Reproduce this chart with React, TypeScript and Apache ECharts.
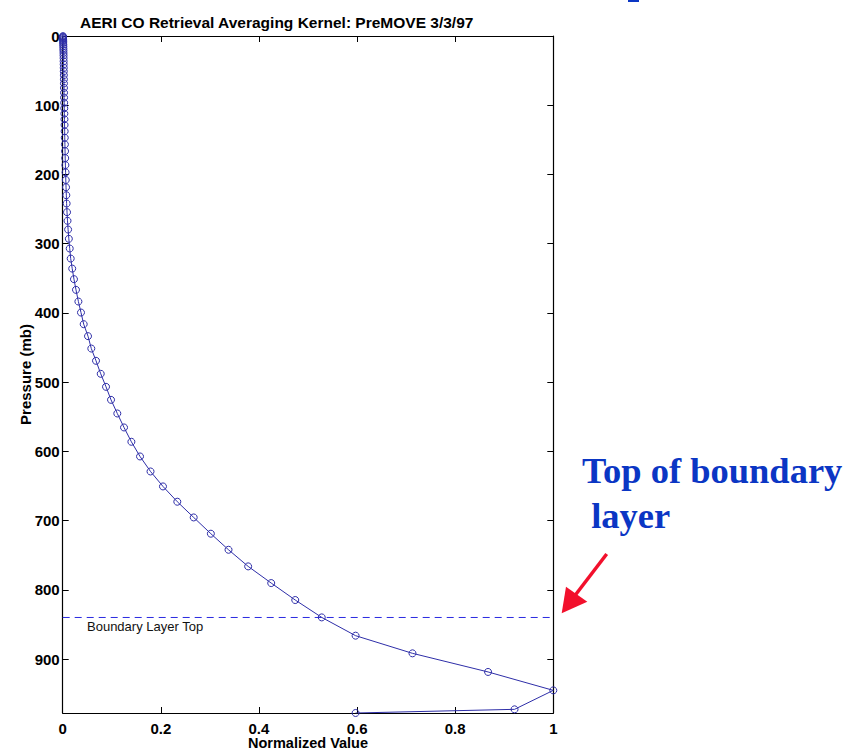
import React, { useEffect, useRef } from "react";
import * as echarts from "echarts";

// Pressure levels (mb), top of atmosphere to surface
const pressures: number[] = [
  0.3, 1, 2, 3, 4.5, 6, 8, 10, 12.5, 15, 18, 21, 24.5, 28, 32, 36.5, 41, 46, 51,
  56.5, 62.5, 68.5, 75, 82, 89, 96.5, 104.4, 112.2, 120.3, 128.5, 137.6, 147,
  156.6, 166.3, 176.4, 186.5, 197, 208, 218.5, 230, 242, 254.5, 267, 279.6, 293,
  307, 321.5, 336, 351.3, 366.7, 383.6, 399.5, 416.3, 433.6, 451.5, 469.2, 488,
  506.8, 525.6, 545.3, 565.5, 586.2, 607.4, 629.1, 650.7, 672.8, 695.5, 719,
  742.2, 766.2, 790.3, 814.8, 839.9, 866.3, 891.8, 918.7, 945.3, 972.7, 978,
];

// Normalized averaging kernel values at each level
const kernelValues: number[] = [
  0.0005, 0.0006, 0.0007, 0.0008, 0.0009, 0.001, 0.001, 0.0011, 0.0012, 0.0013,
  0.0014, 0.0015, 0.0016, 0.0017, 0.0018, 0.0019, 0.002, 0.0021, 0.0022, 0.0023,
  0.0024, 0.0025, 0.0026, 0.0027, 0.0028, 0.003, 0.0032, 0.0034, 0.0036, 0.0038,
  0.004, 0.0042, 0.0045, 0.0048, 0.0051, 0.0055, 0.0059, 0.0063, 0.0068, 0.0074,
  0.008, 0.0088, 0.0098, 0.011, 0.0125, 0.0143, 0.0163, 0.0194, 0.023, 0.0271,
  0.032, 0.0373, 0.0428, 0.0516, 0.0583, 0.0679, 0.0775, 0.0883, 0.0985, 0.1113,
  0.125, 0.14, 0.1576, 0.179, 0.2044, 0.2336, 0.267, 0.302, 0.338, 0.378, 0.425,
  0.474, 0.528, 0.597, 0.713, 0.867, 1.0, 0.921, 0.597,
];

const boundaryLayerTop = 840;
const boundaryLineX = [0, 1];
const pressureMax = 978;
const pressureTickStep = 100;
const valueTickStep = 0.2;

const titleText = "AERI CO Retrieval Averaging Kernel: PreMOVE 3/3/97";
const annotationLines = ["Top of boundary", " layer"];

export default function App() {
  const ref = useRef<HTMLDivElement>(null);

  useEffect(() => {
    if (!ref.current) return;
    const chart = echarts.init(ref.current, undefined, { renderer: "svg" });
    const lineColor = "#2e2ea8";
    const data = pressures.map((p, i) => [kernelValues[i], p]);
    const labelFont = {
      fontFamily: "Liberation Sans, Arial, sans-serif",
      fontWeight: "bold" as const,
      fontSize: 15,
      color: "#000",
    };
    const axisLine = { show: true, onZero: false, lineStyle: { color: "#000", width: 1.2 } };
    const axisTick = {
      show: true,
      inside: true,
      length: 6,
      lineStyle: { color: "#000", width: 1 },
    };

    chart.setOption({
      animation: false,
      backgroundColor: "#fff",
      title: {
        text: titleText,
        left: 75,
        top: 9,
        textStyle: { ...labelFont, fontSize: 15.5 },
      },
      grid: {
        left: 62.7,
        right: 297.7,
        top: 36,
        bottom: 39,
        containLabel: false,
        outerBoundsMode: "none",
      },
      xAxis: [
        {
          type: "value",
          min: 0,
          max: 1,
          interval: valueTickStep,
          position: "bottom",
          axisLine,
          axisTick,
          splitLine: { show: false },
          axisLabel: {
            ...labelFont,
            lineHeight: 14,
            margin: 8,
            formatter: (v: number) => String(+v.toFixed(1)),
          },
          name: "Normalized Value",
          nameLocation: "middle",
          nameGap: 23,
          nameMoveOverlap: false,
          nameTextStyle: { ...labelFont, fontSize: 14.5, lineHeight: 14 },
        },
        {
          type: "value",
          min: 0,
          max: 1,
          interval: valueTickStep,
          position: "top",
          axisLine,
          axisTick,
          splitLine: { show: false },
          axisLabel: { show: false },
        },
      ],
      yAxis: [
        {
          type: "value",
          inverse: true,
          min: 0,
          max: pressureMax,
          interval: pressureTickStep,
          position: "left",
          axisLine,
          axisTick,
          splitLine: { show: false },
          axisLabel: { ...labelFont, margin: 3, showMaxLabel: false },
          name: "Pressure (mb)",
          nameLocation: "middle",
          nameRotate: 90,
          nameGap: 30,
          nameMoveOverlap: false,
          nameTextStyle: labelFont,
        },
        {
          type: "value",
          inverse: true,
          min: 0,
          max: pressureMax,
          interval: pressureTickStep,
          position: "right",
          axisLine,
          axisTick,
          splitLine: { show: false },
          axisLabel: { show: false },
        },
      ],
      series: [
        {
          type: "line",
          xAxisIndex: 0,
          yAxisIndex: 0,
          data: boundaryLineX.map((x) => [x, boundaryLayerTop]),
          symbol: "none",
          silent: true,
          lineStyle: { color: "#2a2ae0", width: 1, type: [7, 5] },
          z: 2,
        },
        {
          type: "line",
          xAxisIndex: 0,
          yAxisIndex: 0,
          data,
          symbol: "circle",
          symbolSize: 7,
          showAllSymbol: true,
          lineStyle: { color: lineColor, width: 1 },
          itemStyle: { color: "rgba(0,0,0,0)", borderColor: lineColor, borderWidth: 1 },
          z: 3,
        },
      ],
      graphic: [
        {
          type: "text",
          left: 87,
          top: 620,
          style: {
            text: "Boundary Layer Top",
            font: "13px Liberation Sans, Arial, sans-serif",
            fill: "#111",
          },
        },
        {
          type: "text",
          x: 582,
          y: 452,
          style: {
            text: annotationLines[0],
            font: "bold 36.5px Liberation Serif, Times New Roman, serif",
            fill: "#0b36c4",
          },
        },
        {
          type: "text",
          x: 582,
          y: 497,
          style: {
            text: annotationLines[1],
            font: "bold 36.5px Liberation Serif, Times New Roman, serif",
            fill: "#0b36c4",
          },
        },
        {
          type: "line",
          shape: { x1: 606.7, y1: 554, x2: 570, y2: 602 },
          style: { stroke: "#f2102c", lineWidth: 3.5 },
        },
        {
          type: "polygon",
          shape: { points: [[561.7, 613.3], [566, 586.7], [587.3, 601.7]] },
          style: { fill: "#f2102c" },
        },
        {
          type: "rect",
          shape: { x: 628, y: 0, width: 11, height: 2 },
          style: { fill: "#0b36c4" },
        },
      ],
    });

    return () => chart.dispose();
  }, []);

  return (
    <div
      ref={ref}
      style={{ position: "absolute", left: 0, top: 0, width: 851, height: 752 }}
    />
  );
}
